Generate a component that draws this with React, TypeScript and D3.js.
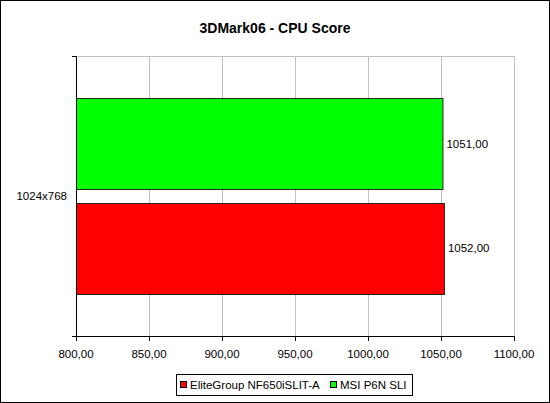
import * as d3 from 'd3';

// chart data
const categories = ['1024x768'];
const seriesNames = ['MSI P6N SLI', 'EliteGroup NF650iSLIT-A'];
const seriesColors = ['#00ff00', '#ff0000'];
const seriesValues = [[1051], [1052]];
const xTicks = [800, 850, 900, 950, 1000, 1050, 1100];
const legendOrder = ['EliteGroup NF650iSLIT-A', 'MSI P6N SLI'];

const W = 550;
const H = 403;
const plot = { left: 76, right: 514, top: 56, bottom: 336 };
const FONT = 'Liberation Sans, Arial, sans-serif';

const fmt = (v: number) => v.toFixed(2).replace('.', ',');

export default function App() {
  const x = d3.scaleLinear().domain([800, 1100]).range([plot.left, plot.right]);
  const yCat = d3.scaleBand<string>().domain(categories).range([plot.top, plot.bottom]);
  const ySeries = d3
    .scaleBand<string>()
    .domain(seriesNames)
    .range([0, yCat.bandwidth()])
    .paddingInner(0.1333)
    .paddingOuter(0.4);

  const colorOf = (name: string) => seriesColors[seriesNames.indexOf(name)];

  return (
    <svg
      width={W}
      height={H}
      style={{ position: 'absolute', left: 0, top: 0, fontFamily: FONT }}
    >
      <rect x={0.5} y={0.5} width={W - 1} height={H - 1} fill="#fff" stroke="#000" />
      <text x={275} y={33} textAnchor="middle" fontSize={14} fontWeight="bold">
        3DMark06 - CPU Score
      </text>

      {/* grid */}
      {xTicks.map((t) => (
        <line
          key={'g' + t}
          x1={Math.round(x(t)) + 0.5}
          x2={Math.round(x(t)) + 0.5}
          y1={plot.top}
          y2={plot.bottom}
          stroke="#c0c0c0"
        />
      ))}
      <line x1={plot.left} x2={plot.right} y1={plot.top + 0.5} y2={plot.top + 0.5} stroke="#c0c0c0" />

      {/* bars */}
      {categories.map((c, ci) =>
        seriesNames.map((s, si) => {
          const y0 = (yCat(c) ?? 0) + (ySeries(s) ?? 0);
          const v = seriesValues[si][ci];
          return (
            <g key={c + s}>
              <rect
                x={x(800) + 0.5}
                y={Math.round(y0) + 0.5}
                width={x(v) - x(800)}
                height={Math.round(ySeries.bandwidth())}
                fill={seriesColors[si]}
                stroke="#222"
              />
              <text
                x={x(v) + 4}
                y={y0 + ySeries.bandwidth() / 2 + 4}
                fontSize={11.5}
              >
                {fmt(v)}
              </text>
            </g>
          );
        })
      )}

      {/* y axis */}
      <line x1={plot.left + 0.5} x2={plot.left + 0.5} y1={plot.top} y2={plot.bottom + 1} stroke="#000" />
      <line x1={plot.left - 4} x2={plot.left} y1={plot.top + 0.5} y2={plot.top + 0.5} stroke="#000" />
      <line x1={plot.left - 4} x2={plot.left} y1={plot.bottom + 0.5} y2={plot.bottom + 0.5} stroke="#000" />
      {categories.map((c) => (
        <text
          key={c}
          x={plot.left - 9}
          y={(yCat(c) ?? 0) + yCat.bandwidth() / 2 + 4}
          textAnchor="end"
          fontSize={11.5}
        >
          {c}
        </text>
      ))}

      {/* x axis */}
      <line x1={plot.left} x2={plot.right + 1} y1={plot.bottom + 0.5} y2={plot.bottom + 0.5} stroke="#000" />
      {xTicks.map((t) => (
        <g key={'t' + t}>
          <line
            x1={Math.round(x(t)) + 0.5}
            x2={Math.round(x(t)) + 0.5}
            y1={plot.bottom}
            y2={plot.bottom + 5}
            stroke="#000"
          />
          <text x={x(t)} y={plot.bottom + 22} textAnchor="middle" fontSize={11.5}>
            {fmt(t)}
          </text>
        </g>
      ))}

      {/* legend */}
      <rect x={176.5} y={374.5} width={236} height={21} fill="#fff" stroke="#000" />
      {legendOrder.map((name, i) => {
        const lx = i === 0 ? 180 : 330;
        return (
          <g key={name}>
            <rect x={lx + 0.5} y={381.5} width={6} height={6} fill={colorOf(name)} stroke="#000" />
            <text x={lx + 10} y={389} fontSize={11.5}>
              {name}
            </text>
          </g>
        );
      })}
    </svg>
  );
}
